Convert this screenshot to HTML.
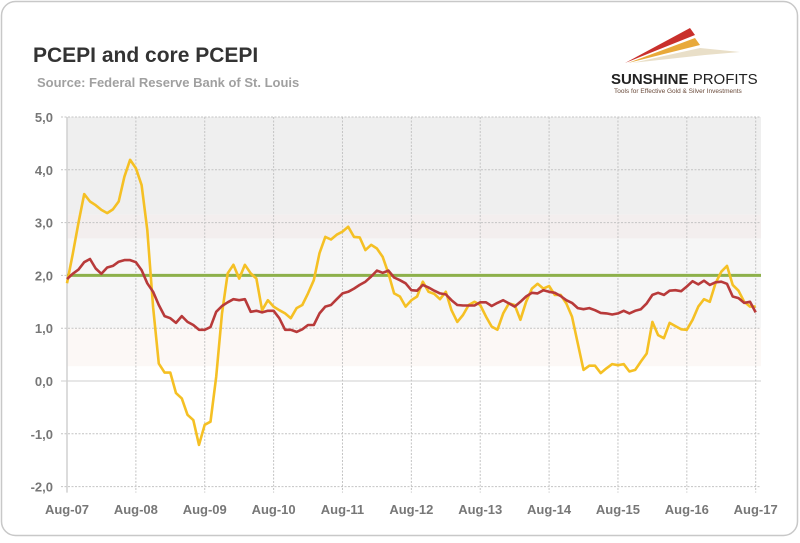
<!DOCTYPE html>
<html><head><meta charset="utf-8">
<style>
html,body{margin:0;padding:0;background:#fff;}
body{width:800px;height:538px;overflow:hidden;font-family:"Liberation Sans",sans-serif;}
</style></head>
<body>
<svg id="chart" width="800" height="538" xmlns="http://www.w3.org/2000/svg" font-family="Liberation Sans, sans-serif">
<rect x="1.5" y="1.5" width="796" height="534" rx="14" fill="#fff" stroke="#c8c8c8" stroke-width="1.5"/>
<text x="33" y="62" font-size="21" font-weight="bold" fill="#333">PCEPI and core PCEPI</text>
<text x="37" y="87" font-size="13" font-weight="bold" fill="#a0a0a0">Source: Federal Reserve Bank of St. Louis</text>
<g>
<polygon points="625,63 690,28 695,35" fill="#c9302c"/>
<polygon points="628,63 695,38 700,45" fill="#e8a93a"/>
<polygon points="632,63 700,48 740,52 705,55" fill="#e9dfc8"/>
<text x="611" y="84" font-size="15" font-weight="bold" fill="#222">SUNSHINE <tspan font-weight="normal">PROFITS</tspan></text>
<text x="614" y="93" font-size="6.5" fill="#6a4a3a">Tools for Effective Gold &amp; Silver Investments</text>
</g>
<g id="bands"></g>
<g id="grid"></g>
<g id="series"></g>
<g id="labels"></g>
</svg>
<script>
const yTicks = [5, 4, 3, 2, 1, 0, -1, -2];
const yTickLabels = ["5,0","4,0","3,0","2,0","1,0","0,0","-1,0","-2,0"];
const xTickLabels = ["Aug-07","Aug-08","Aug-09","Aug-10","Aug-11","Aug-12","Aug-13","Aug-14","Aug-15","Aug-16","Aug-17"];
const targetValue = 2.0;
const headline = [1.85,2.4,3.0,3.54,3.4,3.33,3.24,3.18,3.25,3.4,3.87,4.19,4.03,3.71,2.86,1.4,0.33,0.16,0.16,-0.23,-0.33,-0.64,-0.74,-1.21,-0.83,-0.77,0.08,1.28,2.04,2.2,1.94,2.2,2.04,1.94,1.34,1.53,1.41,1.34,1.28,1.19,1.38,1.44,1.66,1.91,2.42,2.73,2.68,2.77,2.83,2.92,2.73,2.72,2.48,2.58,2.51,2.35,2.04,1.66,1.6,1.41,1.53,1.6,1.88,1.69,1.65,1.55,1.69,1.34,1.12,1.25,1.44,1.5,1.44,1.22,1.03,0.97,1.28,1.47,1.44,1.16,1.5,1.75,1.84,1.75,1.8,1.63,1.63,1.47,1.22,0.71,0.21,0.29,0.29,0.15,0.24,0.32,0.3,0.32,0.18,0.21,0.37,0.52,1.12,0.87,0.81,1.1,1.04,0.98,0.97,1.16,1.41,1.55,1.5,1.85,2.07,2.18,1.82,1.71,1.5,1.41,1.41];
const core = [1.93,2.03,2.11,2.25,2.31,2.13,2.03,2.15,2.18,2.26,2.29,2.29,2.25,2.1,1.85,1.69,1.44,1.23,1.19,1.1,1.23,1.12,1.06,0.97,0.97,1.02,1.31,1.42,1.49,1.55,1.53,1.55,1.31,1.33,1.3,1.33,1.33,1.19,0.97,0.97,0.93,0.98,1.06,1.06,1.28,1.41,1.44,1.55,1.66,1.69,1.75,1.82,1.88,1.98,2.09,2.05,2.09,1.96,1.91,1.85,1.72,1.71,1.82,1.77,1.71,1.66,1.64,1.53,1.44,1.43,1.43,1.43,1.49,1.49,1.42,1.48,1.53,1.47,1.41,1.5,1.6,1.67,1.66,1.72,1.69,1.67,1.61,1.53,1.48,1.38,1.36,1.38,1.34,1.29,1.28,1.26,1.28,1.33,1.28,1.33,1.36,1.47,1.63,1.67,1.63,1.71,1.72,1.7,1.79,1.89,1.83,1.9,1.82,1.87,1.88,1.84,1.6,1.57,1.48,1.5,1.3];

const NS = "http://www.w3.org/2000/svg";
const X0 = 67, X1 = 755.7, PL = 67, PR = 761;
const yScale = v => 381 - v * 52.8;
const xScale = i => X0 + (X1 - X0) * i / (headline.length - 1);
function mk(tag, attrs, parent){ const e = document.createElementNS(NS, tag); for (const k in attrs) e.setAttribute(k, attrs[k]); parent.appendChild(e); return e; }

const bands = document.getElementById('bands');
const bandDefs = [[5,3.15,"#efefef"],[3.15,2.7,"#f3eeee"],[2.7,1.0,"#f6f6f6"],[1.0,0.28,"#fcf8f6"]];
bandDefs.forEach(b => {
  const r = mk('rect', {x:PL, y:yScale(b[0]), width:PR-PL, height:yScale(b[1])-yScale(b[0]), fill:b[2]}, bands);
  
  
});

const grid = document.getElementById('grid');
const labels = document.getElementById('labels');
yTicks.forEach((t, k) => {
  const y = yScale(t);
  const l = mk('line', {x1:PL-6, x2:PR, y1:y, y2:y, stroke: t===0 ? "#cfcfcf" : "#c4c4c4", 'stroke-width':1, 'stroke-dasharray': t===0 ? "" : "2,1.5"}, grid);
  
  
  const tx = mk('text', {x:53, y:y+5, 'text-anchor':'end', 'font-size':13, 'font-weight':'bold', fill:'#777'}, labels);
  tx.textContent = yTickLabels[k];
  
  
});
xTickLabels.forEach((lab, k) => {
  const x = xScale(k * 12);
  const l = mk('line', {x1:x, x2:x, y1:yScale(5), y2:yScale(-2)+6, stroke: k===0 ? "#d0d0d0" : "#c4c4c4", 'stroke-width': k===0 ? 1.5 : 1, 'stroke-dasharray': k===0 ? "" : "2,1.5"}, grid);
  
  
  const tx = mk('text', {x:x, y:514, 'text-anchor':'middle', 'font-size':13, 'font-weight':'bold', fill:'#777'}, labels);
  tx.textContent = lab;
  
  
});

const series = document.getElementById('series');
const tgt = mk('line', {x1:PL, x2:PR, y1:yScale(targetValue), y2:yScale(targetValue), stroke:'#8db04a', 'stroke-width':3}, series);


function pathFor(arr){ return arr.map((v,i) => (i?'L':'M') + xScale(i).toFixed(1) + ',' + yScale(v).toFixed(1)).join(''); }
const hp = mk('path', {d:pathFor(headline), fill:'none', stroke:'#f5c024', 'stroke-width':2.6, 'stroke-linejoin':'round'}, series);


const cp = mk('path', {d:pathFor(core), fill:'none', stroke:'#b83a3a', 'stroke-width':2.6, 'stroke-linejoin':'round'}, series);


</script>
</body></html>
